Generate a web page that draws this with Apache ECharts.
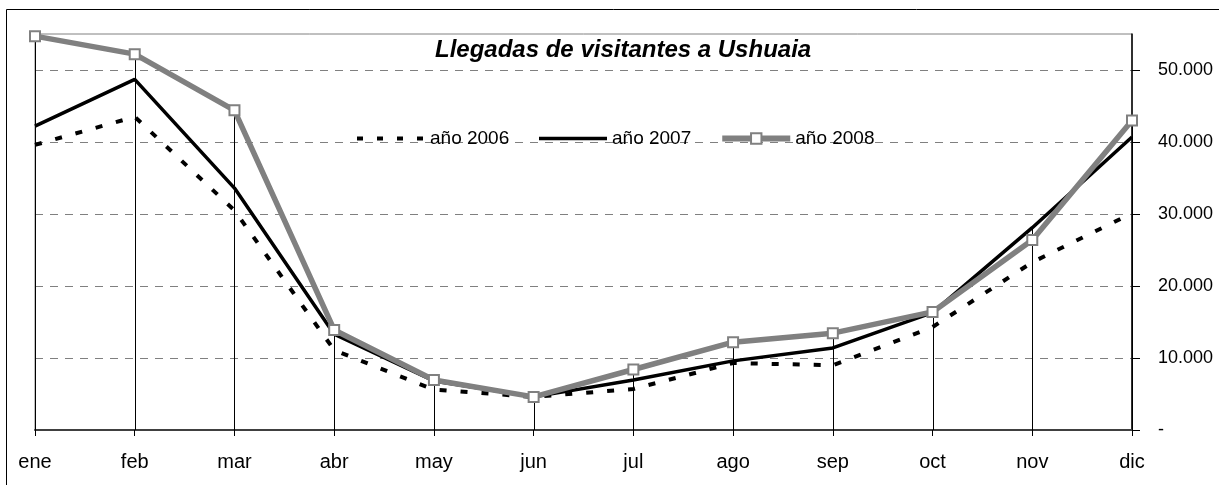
<!DOCTYPE html>
<html>
<head>
<meta charset="utf-8">
<script src="https://cdn.jsdelivr.net/npm/echarts@6/dist/echarts.min.js"></script>
<style>
html,body{margin:0;padding:0;background:#fff;}
#c{width:1219px;height:485px;}
</style>
</head>
<body>
<div id="c"></div>
<script>
var categories = ['ene','feb','mar','abr','may','jun','jul','ago','sep','oct','nov','dic'];
var seriesNames = ['año 2006','año 2007','año 2008'];
var y2006 = [39600, 43500, 30500, 11100, 5600, 4600, 5700, 9300, 9000, 14300, 23300, 30100];
var y2007 = [42200, 48700, 33600, 13300, 6800, 4600, 6950, 9600, 11400, 16300, 28100, 40700];
var y2008 = [54700, 52200, 44400, 13900, 6950, 4600, 8400, 12200, 13450, 16400, 26400, 43000];
var yTicks = [0, 10000, 20000, 30000, 40000, 50000];
var titleText = 'Llegadas de visitantes a Ushuaia';

var dropTops = categories.map(function(c, i){ return Math.max(y2006[i], y2007[i], y2008[i]); });

var FONT = "'Liberation Sans', Arial, sans-serif";
function fmt(v){
  if (v === 0) return '-';
  return String(v).replace(/\B(?=(\d{3})+(?!\d))/g, '.');
}

var chart = echarts.init(document.getElementById('c'), null, {renderer:'canvas'});
chart.setOption({
  animation: false,
  backgroundColor: '#ffffff',
  graphic: [{
    type: 'rect', silent: true, z: -10,
    shape: {x: 6.5, y: 9.5, width: 1300, height: 600},
    style: {fill: 'none', stroke: '#000', lineWidth: 1}
  }],
  title: {
    text: titleText,
    left: 435, top: 38, padding: 0,
    textStyle: {fontFamily: FONT, fontSize: 24, fontWeight: 'bold', fontStyle: 'italic', color: '#000'}
  },
  legend: {
    data: [
      {name: seriesNames[0], itemStyle: {opacity: 0}, lineStyle: {width: 4, type: [6, 14], color: '#000'}},
      {name: seriesNames[1], itemStyle: {opacity: 0}, lineStyle: {width: 3.5, color: '#000'}},
      {name: seriesNames[2], lineStyle: {width: 6, color: '#808080'}}
    ],
    left: 355, top: 129, padding: 0,
    itemWidth: 68, itemHeight: 13, itemGap: 28,
    textStyle: {fontFamily: FONT, fontSize: 19, color: '#000'}
  },
  grid: {left: 35, right: 87, top: 34, bottom: 55, outerBoundsMode: 'none', containLabel: false, show: true, borderColor: '#808080', borderWidth: 1, backgroundColor: 'transparent'},
  xAxis: {
    type: 'category', data: categories, boundaryGap: false,
    axisLine: {lineStyle: {color: '#404040', width: 2}},
    axisTick: {show: true, length: 6, lineStyle: {color: '#000', width: 1}},
    axisLabel: {fontFamily: FONT, fontSize: 20, color: '#000', margin: 22},
    splitLine: {show: false}
  },
  yAxis: {
    type: 'value', position: 'right', min: 0, max: 55000, interval: 10000,
    axisLine: {show: true, lineStyle: {color: '#000', width: 1.5}},
    axisTick: {show: true, length: 8, customValues: yTicks, lineStyle: {color: '#000'}},
    axisLabel: {customValues: yTicks, fontFamily: FONT, fontSize: 18, color: '#000', margin: 26, formatter: fmt},
    splitLine: {show: true, lineStyle: {color: '#808080', type: [8, 7], width: 1}}
  },
  series: [
    {
      type: 'custom', name: 'drop', z: 1, silent: true,
      data: dropTops.map(function(v, i){ return [i, v]; }),
      renderItem: function(params, api){
        var top = api.coord([api.value(0), api.value(1)]);
        var bot = api.coord([api.value(0), 0]);
        var x = Math.round(top[0]) + 0.5;
        return {type: 'line', shape: {x1: x, y1: top[1], x2: x, y2: bot[1]}, style: {stroke: '#000', lineWidth: 1}};
      }
    },
    {
      name: seriesNames[0], type: 'line', data: y2006, z: 3, symbol: 'none',
      lineStyle: {color: '#000', width: 4, type: [7, 14]}, itemStyle: {color: '#000'}
    },
    {
      name: seriesNames[1], type: 'line', data: y2007, z: 4, symbol: 'none',
      lineStyle: {color: '#000', width: 3.5}, itemStyle: {color: '#000'}
    },
    {
      name: seriesNames[2], type: 'line', data: y2008, z: 5, symbol: 'rect', symbolSize: 10,
      lineStyle: {color: '#808080', width: 5.5},
      itemStyle: {color: '#ffffff', borderColor: '#808080', borderWidth: 2}
    }
  ]
});
</script>
</body>
</html>
